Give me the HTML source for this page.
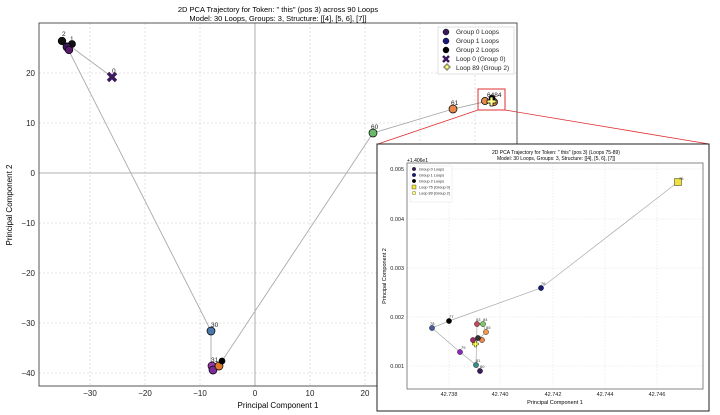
<!DOCTYPE html>
<html><head><meta charset="utf-8"><style>
html,body{margin:0;padding:0;background:#fff;}
svg{display:block;font-family:"Liberation Sans",sans-serif;}
</style></head><body>
<svg width="720" height="415" viewBox="0 0 720 415" xmlns="http://www.w3.org/2000/svg">
<rect width="720" height="415" fill="#fff"/>
<text x="278" y="12" font-size="7.5" text-anchor="middle">2D PCA Trajectory for Token: " this" (pos 3) across 90 Loops</text>
<text x="278" y="21" font-size="7.5" text-anchor="middle">Model: 30 Loops, Groups: 3, Structure: [[4], [5, 6], [7]]</text>
<g stroke="#ccc" stroke-width="0.6" stroke-dasharray="2,2">
<line x1="90" y1="23" x2="90" y2="386"/><line x1="145" y1="23" x2="145" y2="386"/><line x1="200" y1="23" x2="200" y2="386"/><line x1="310" y1="23" x2="310" y2="386"/><line x1="365" y1="23" x2="365" y2="386"/><line x1="420" y1="23" x2="420" y2="386"/><line x1="475" y1="23" x2="475" y2="386"/>
<line x1="39" y1="73" x2="517" y2="73"/><line x1="39" y1="123" x2="517" y2="123"/><line x1="39" y1="223" x2="517" y2="223"/><line x1="39" y1="273" x2="517" y2="273"/><line x1="39" y1="323" x2="517" y2="323"/><line x1="39" y1="373" x2="517" y2="373"/>
</g>
<line x1="255" y1="23" x2="255" y2="386" stroke="#999" stroke-width="0.8"/>
<line x1="39" y1="173" x2="517" y2="173" stroke="#999" stroke-width="0.8"/>
<rect x="39" y="23" width="478" height="363" fill="none" stroke="#444" stroke-width="0.9"/>
<g font-size="8" text-anchor="middle" fill="#222">
<text x="90" y="396">−30</text><text x="145" y="396">−20</text><text x="200" y="396">−10</text><text x="255" y="396">0</text><text x="310" y="396">10</text><text x="365" y="396">20</text>
</g>
<text x="278" y="408" font-size="8" text-anchor="middle">Principal Component 1</text>
<g font-size="8" text-anchor="end" fill="#222">
<text x="35" y="76">20</text><text x="35" y="126">10</text><text x="35" y="176">0</text><text x="35" y="226">−10</text><text x="35" y="276">−20</text><text x="35" y="326">−30</text><text x="35" y="376">−40</text>
</g>
<text transform="translate(12,205) rotate(-90)" font-size="8" text-anchor="middle">Principal Component 2</text>
<polyline points="112,77 70,46 62,41 72,44 68,49 211,331 211,364 218,366 222,361 373,133 453,109 488,101" fill="none" stroke="#aaa" stroke-width="0.9"/>
<g stroke="#000" stroke-width="0.7">
<circle cx="62" cy="41" r="3.8" fill="#111"/><circle cx="72" cy="44" r="3.5" fill="#111"/><circle cx="67" cy="47" r="4" fill="#3a1a5a"/><circle cx="69" cy="50" r="3.8" fill="#5a1a6a"/>
<path d="M108,73 L116,81 M116,73 L108,81" stroke="#3a1a5a" stroke-width="3.4"/>
<circle cx="211" cy="331" r="4" fill="#4a78a8"/>
<circle cx="212" cy="366" r="4" fill="#9a3aa8"/><circle cx="213" cy="370" r="4" fill="#7a2a9a"/><circle cx="219" cy="366" r="4" fill="#e07a2a"/><circle cx="222" cy="361" r="3" fill="#000"/>
<circle cx="373" cy="133" r="4" fill="#6ab86a"/><circle cx="453" cy="109" r="4" fill="#e8884a"/>
<circle cx="485" cy="101" r="3.6" fill="#e8884a"/><circle cx="494" cy="102" r="3.6" fill="#e8884a"/><circle cx="492" cy="98" r="3" fill="#000"/>
<path d="M487,100h3v-3h3v3h3v3h-3v3h-3v-3h-3z" fill="#ffff88"/>
</g>
<g font-size="6.5" fill="#222"><text x="62" y="36">2</text><text x="70" y="41">1</text><text x="112" y="73">0</text><text x="211" y="327">30</text><text x="211" y="362">31</text><text x="371" y="129">60</text><text x="451" y="105">61</text><text x="487" y="97">6484</text></g>
<rect x="438" y="27" width="76" height="47" fill="#fff" stroke="#ccc" stroke-width="0.6"/>
<g stroke="#000" stroke-width="0.5"><circle cx="446" cy="32" r="3" fill="#3a1a5a"/><circle cx="446" cy="41" r="3" fill="#1a1a7a"/><circle cx="446" cy="50" r="3" fill="#000"/></g>
<path d="M443,56 L449,62 M449,56 L443,62" stroke="#3a1a5a" stroke-width="2.5"/>
<path d="M444,66h2v-2h2v2h2v2h-2v2h-2v-2h-2z" fill="#ffff88" stroke="#000" stroke-width="0.5"/>
<g font-size="6.5" fill="#222"><text x="456" y="34">Group 0 Loops</text><text x="456" y="43">Group 1 Loops</text><text x="456" y="52">Group 2 Loops</text><text x="456" y="61">Loop 0 (Group 0)</text><text x="456" y="70">Loop 89 (Group 2)</text></g>
<rect x="478" y="89" width="27" height="21" fill="none" stroke="#e03030" stroke-width="1"/>
<line x1="478" y1="110" x2="378" y2="144" stroke="#e03030" stroke-width="0.8"/>
<line x1="505" y1="110" x2="709" y2="144" stroke="#e03030" stroke-width="0.8"/>
<rect x="377" y="144" width="332" height="267" fill="#fff" stroke="#222" stroke-width="1"/>
<text x="556" y="154" font-size="5" text-anchor="middle">2D PCA Trajectory for Token: " this" (pos 3) (Loops 75-89)</text>
<text x="556" y="160" font-size="5" text-anchor="middle">Model: 30 Loops, Groups: 3, Structure: [[4], [5, 6], [7]]</text>
<text x="407" y="162" font-size="5">+1.406e1</text>
<g stroke="#ddd" stroke-width="0.5" stroke-dasharray="1.5,1.5">
<line x1="449" y1="163" x2="449" y2="389"/><line x1="500" y1="163" x2="500" y2="389"/><line x1="553" y1="163" x2="553" y2="389"/><line x1="605" y1="163" x2="605" y2="389"/><line x1="657" y1="163" x2="657" y2="389"/>
<line x1="407" y1="169" x2="703" y2="169"/><line x1="407" y1="219" x2="703" y2="219"/><line x1="407" y1="268" x2="703" y2="268"/><line x1="407" y1="317" x2="703" y2="317"/><line x1="407" y1="366" x2="703" y2="366"/>
</g>
<rect x="407" y="163" width="296" height="226" fill="none" stroke="#555" stroke-width="0.7"/>
<g font-size="5.5" text-anchor="middle" fill="#222"><text x="449" y="396">42.738</text><text x="500" y="396">42.740</text><text x="553" y="396">42.742</text><text x="605" y="396">42.744</text><text x="657" y="396">42.746</text></g>
<text x="555" y="404" font-size="5.5" text-anchor="middle">Principal Component 1</text>
<g font-size="5.5" text-anchor="end" fill="#222"><text x="404" y="171">0.005</text><text x="404" y="221">0.004</text><text x="404" y="270">0.003</text><text x="404" y="319">0.002</text><text x="404" y="368">0.001</text></g>
<text transform="translate(386,276) rotate(-90)" font-size="5.5" text-anchor="middle">Principal Component 2</text>
<polyline points="678,182 541,288 449,321 432,328 460,352 476,365 480,371 476,365 477,324 483,324 486,332 478,340 475,344" fill="none" stroke="#aaa" stroke-width="0.7"/>
<g stroke="#000" stroke-width="0.4">
<circle cx="541" cy="288" r="2.6" fill="#1a1a7a"/><circle cx="449" cy="321" r="2.6" fill="#000"/><circle cx="432" cy="328" r="2.6" fill="#4a5a9a"/><circle cx="460" cy="352" r="2.6" fill="#8a2aba"/><circle cx="476" cy="365" r="2.6" fill="#3a8a8a"/><circle cx="480" cy="371" r="2.6" fill="#3a1a5a"/><circle cx="477" cy="324" r="2.6" fill="#c04a5a"/><circle cx="483" cy="324" r="2.6" fill="#7aca6a"/><circle cx="486" cy="332" r="2.6" fill="#f09a4a"/><circle cx="473" cy="340" r="2.6" fill="#a02a6a"/><circle cx="482" cy="340" r="2.6" fill="#e8884a"/><circle cx="478" cy="338" r="2.6" fill="#333"/>
<rect x="674.5" y="178.5" width="7" height="7" fill="#f0e040"/>
<path d="M472.5,343h2v-2h2v2h2v2h-2v2h-2v-2h-2z" fill="#ffff40"/>
</g>
<g font-size="4" fill="#333"><text x="679" y="180">75</text><text x="541" y="285">76</text><text x="449" y="318">77</text><text x="430" y="325">78</text><text x="461" y="349">79</text><text x="480" y="368">80</text><text x="476" y="362">81</text><text x="476" y="321">83</text><text x="483" y="321">84</text><text x="486" y="329">85</text></g>
<rect x="410" y="166" width="42" height="36" fill="#fff" stroke="#ddd" stroke-width="0.4"/>
<g stroke="#000" stroke-width="0.3"><circle cx="414" cy="169" r="1.8" fill="#3a1a5a"/><circle cx="414" cy="175" r="1.8" fill="#1a1a7a"/><circle cx="414" cy="181" r="1.8" fill="#000"/><rect x="412" y="185" width="4" height="4" fill="#f0e040"/><circle cx="414" cy="193" r="1.8" fill="#ffff88"/></g>
<g font-size="3.8" fill="#222"><text x="419" y="170.5">Group 0 Loops</text><text x="419" y="176.5">Group 1 Loops</text><text x="419" y="182.5">Group 2 Loops</text><text x="419" y="188.5">Loop 75 (Group 0)</text><text x="419" y="194.5">Loop 89 (Group 2)</text></g>
</svg>
</body></html>
